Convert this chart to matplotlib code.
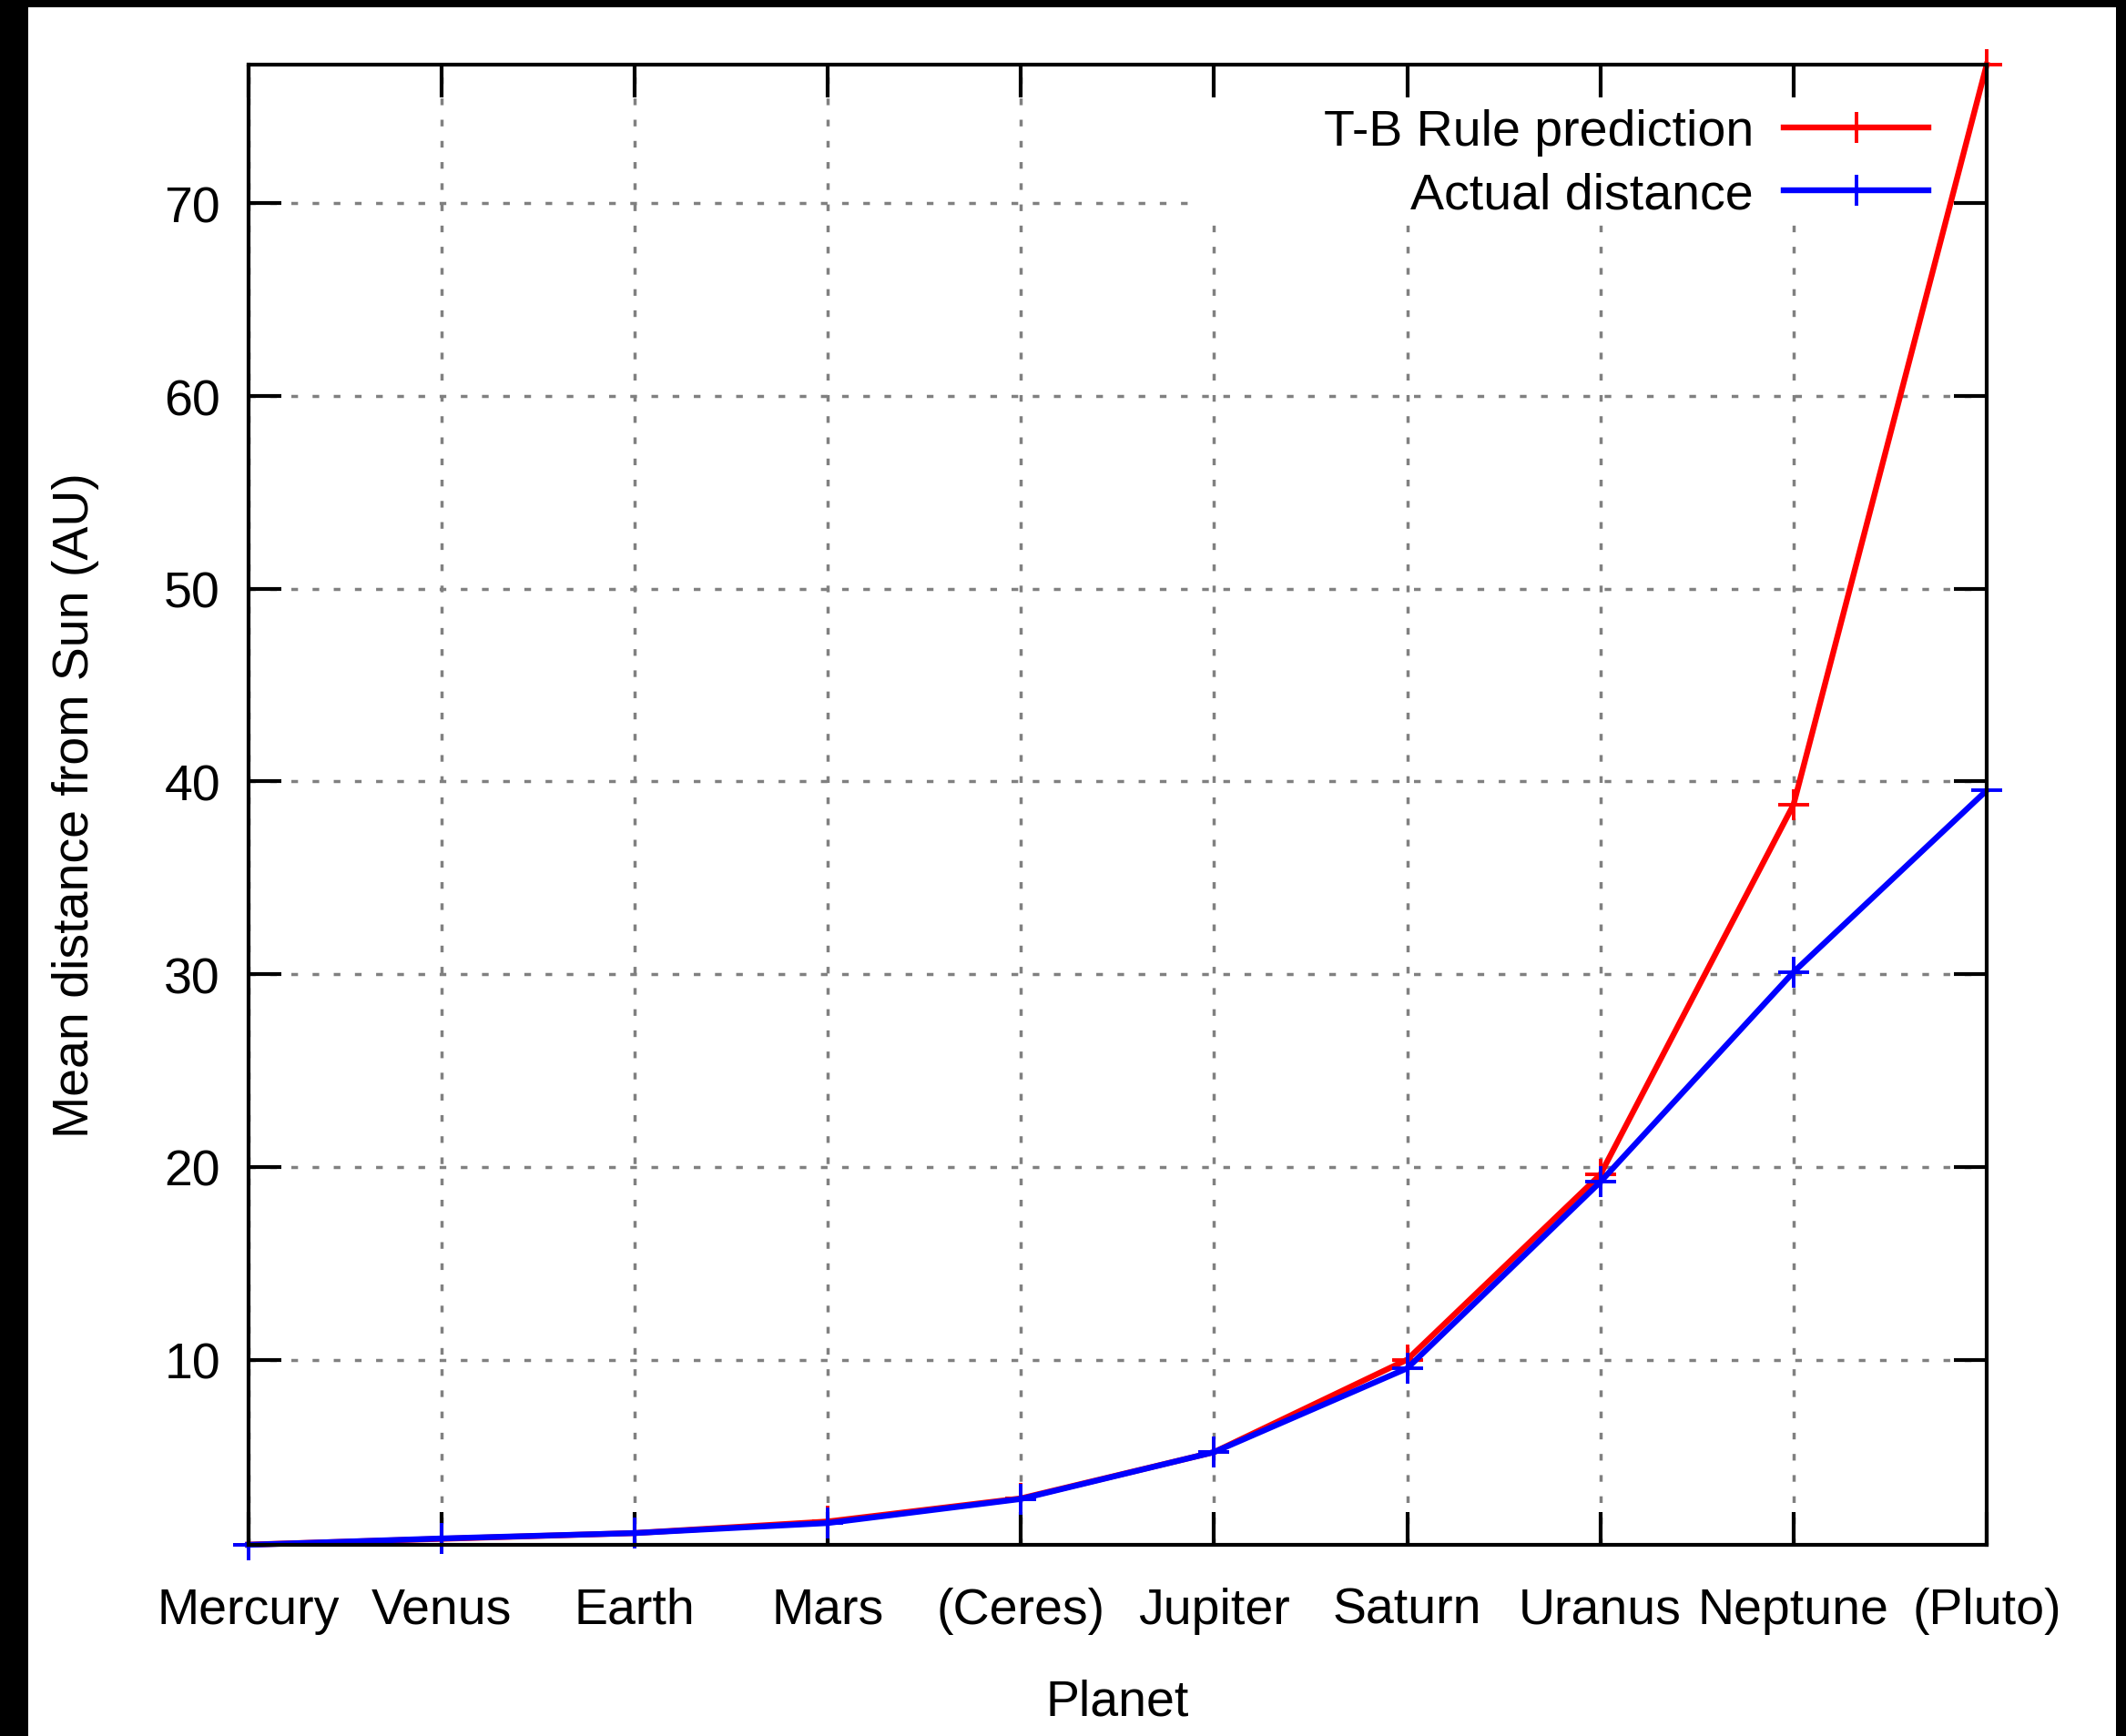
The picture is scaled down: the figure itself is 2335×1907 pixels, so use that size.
import matplotlib
matplotlib.use("Agg")
import matplotlib.pyplot as plt
from matplotlib.patches import Rectangle

planets = ['Mercury', 'Venus', 'Earth', 'Mars', '(Ceres)', 'Jupiter',
           'Saturn', 'Uranus', 'Neptune', '(Pluto)']
tb_prediction = [0.4, 0.7, 1.0, 1.6, 2.8, 5.2, 10.0, 19.6, 38.8, 77.2]
actual_distance = [0.39, 0.72, 1.00, 1.52, 2.77, 5.20, 9.55, 19.22, 30.11, 39.54]
y_ticks = [10, 20, 30, 40, 50, 60, 70]

W, H = 2335, 1908
plt.rcParams['font.family'] = ['Liberation Sans', 'DejaVu Sans']
plt.rcParams['font.size'] = 40

fig = plt.figure(figsize=(W / 100, H / 100), dpi=100)
fig.patch.set_facecolor('white')

# black frame strips (left, top, right)
for (x0, y0, w, h) in [(0, 0, 31 / W, 1), (0, 1 - 9 / H, 1, 9 / H), (2324 / W, 0, 1 - 2324 / W, 1)]:
    fig.add_artist(Rectangle((x0, y0), w, h, transform=fig.transFigure,
                             facecolor='black', edgecolor='none', zorder=10))

L, R, T, B = 272.5, 2182, 72, 1698
ax = fig.add_axes([L / W, 1 - B / H, (R - L) / W, (B - T) / H])

x = list(range(len(planets)))
ax.set_xlim(x[0], x[-1])
ax.set_ylim(min(tb_prediction + actual_distance), max(tb_prediction + actual_distance))

grid_kw = dict(color='#808080', lw=2.5, dashes=(2.1, 4.6), zorder=0.5)
for xi in x:
    ax.axvline(xi, **grid_kw)
for yt in y_ticks:
    ax.axhline(yt, **grid_kw)

# opaque key area
x0a = (1315 - L) / (R - L)
y0a = (B - 247) / (B - T)
ax.add_patch(Rectangle((x0a, y0a), 1 - x0a, 1 - y0a, transform=ax.transAxes,
                       facecolor='white', edgecolor='none', zorder=1))

line_kw = dict(lw=4.6, marker='+', markersize=24, mew=2.8, clip_on=False, zorder=3)
ax.plot(x, tb_prediction, color='#ff0000', label='T-B Rule prediction', **line_kw)
ax.plot(x, actual_distance, color='#0000ff', label='Actual distance', **line_kw)

ax.set_xticks(x)
ax.set_xticklabels(planets)
ax.set_yticks(y_ticks)
ax.tick_params(axis='both', direction='in', length=26, width=3.0, top=True, right=True,
               labelsize=40, colors='black')
ax.tick_params(axis='x', pad=33)
ax.tick_params(axis='y', pad=22)
for s in ax.spines.values():
    s.set_linewidth(3.0)
    s.set_zorder(4)

ax.set_xlabel('Planet', fontsize=40, labelpad=35)
ax.set_ylabel('Mean distance from Sun (AU)', fontsize=40, labelpad=51)

leg = ax.legend(loc='upper right', bbox_to_anchor=(2118 / W, 1 - 120 / H),
                bbox_transform=fig.transFigure, frameon=False, markerfirst=False,
                handlelength=2.86, handletextpad=0.6, labelspacing=0.31, borderpad=0,
                borderaxespad=0, fontsize=40, numpoints=1)
leg.set_zorder(5)

fig.savefig('out.png', dpi=100, facecolor='white')
